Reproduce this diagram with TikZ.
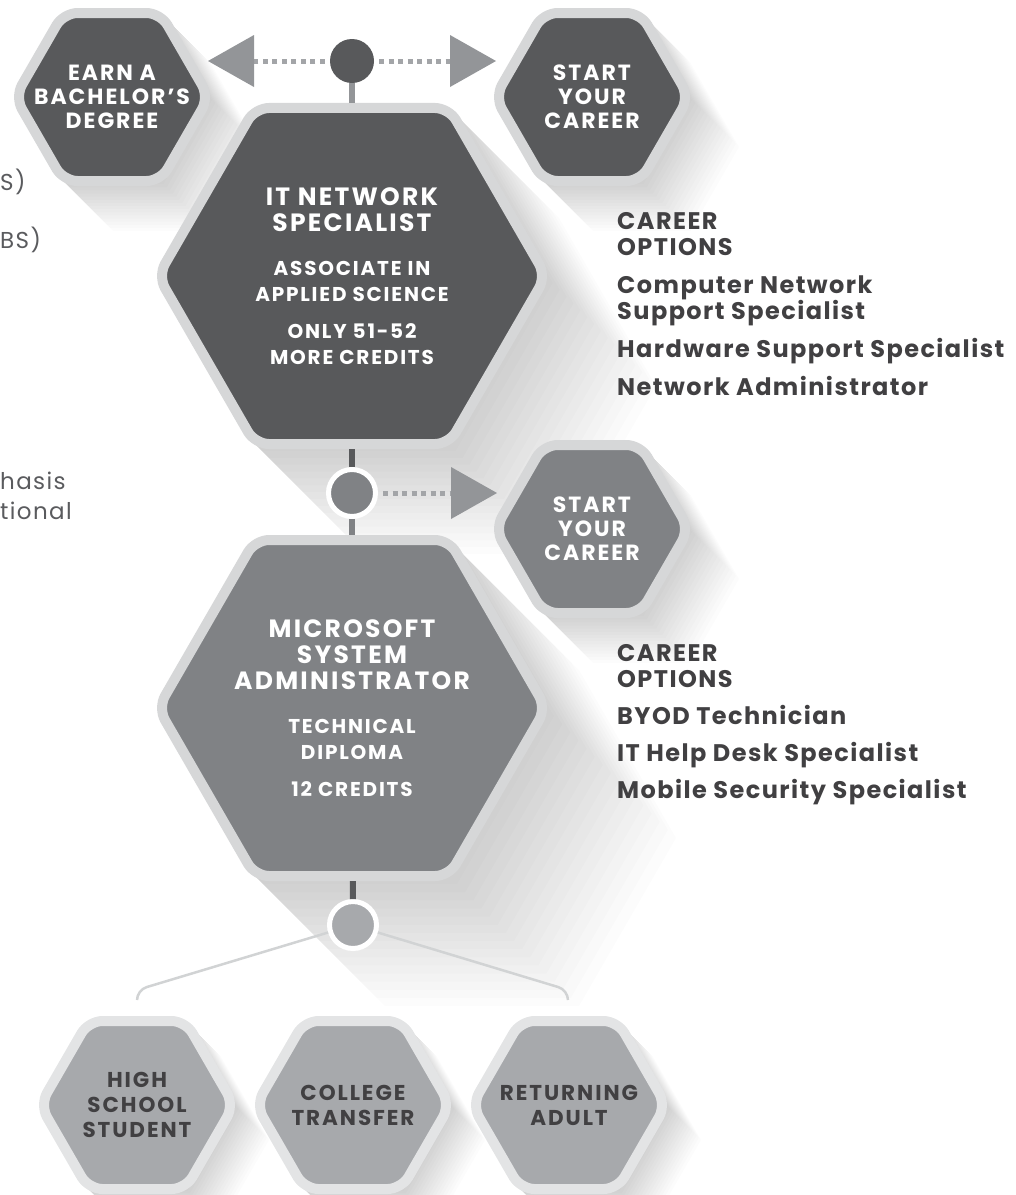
\documentclass[tikz,border=0pt]{standalone}
\usepackage{fontspec}
\setmainfont{Poppins}[LetterSpace=6]
\newfontfamily\hexfont{Poppins}[LetterSpace=9]
\usetikzlibrary{shapes.geometric,arrows.meta}

\definecolor{hexdark}{HTML}{58595B}
\definecolor{hexmid}{HTML}{808285}
\definecolor{hexlight}{HTML}{A7A9AC}
\definecolor{hexrim}{HTML}{D6D7D8}
\definecolor{rimlight}{HTML}{E3E4E5}
\definecolor{arrowgray}{HTML}{939598}
\definecolor{dotgray}{HTML}{A3A5A8}
\definecolor{txtgray}{HTML}{414042}
\definecolor{cutgray}{HTML}{5A5B5E}
\definecolor{branchgray}{HTML}{D1D3D4}

% shadow ribbon behind a hexagon: x, y, radius, length
\newcommand{\hexshadow}[4]{%
  \foreach \k in {1,...,16}{
  \fill[black, opacity=0.012]
    ({#1+0.5*#3},{#2-0.866*#3}) -- ({#1+0.5*#3+#4*\k/16},{#2-0.866*#3+#4*\k/16})
    -- ({#1+#3+#4*\k/16},{#2+#4*\k/16}) -- ({#1+0.5*#3+#4*\k/16},{#2+0.866*#3+#4*\k/16})
    -- ({#1-0.5*#3+#4*\k/16},{#2+0.866*#3+#4*\k/16}) -- ({#1-0.5*#3},{#2+0.866*#3}) -- cycle;}}
\newcommand{\hta}[1]{{\fontsize{25}{26}\selectfont #1}}
\newcommand{\htb}[1]{{\fontsize{20}{26}\selectfont #1}}

\begin{document}
\begin{tikzpicture}[x=1pt,y=-1pt]
  \tikzset{hexa/.style = {regular polygon, regular polygon sides=6, minimum size=#1, inner sep=-60pt,
      line width=10pt, draw=hexrim, rounded corners=14pt, align=center, text=white,
      font=\hexfont\bfseries\fontsize{22}{24}\selectfont}}
  \tikzset{entry/.style = {hexa=194, fill=hexlight, draw=rimlight, text=txtgray,
      font=\hexfont\bfseries\fontsize{21.5}{25}\selectfont}}
  \tikzset{dot/.style = {circle, minimum size=#1, inner sep=0pt}}
  \tikzset{stub/.style = {line width=6pt}}
  \tikzset{dotarrow/.style = {draw=dotgray, line width=5pt, dash pattern=on 5pt off 4.5pt, shorten <=5pt,
      -{Triangle[length=46pt, width=52pt, line width=0pt, color=arrowgray]}}}
  \tikzset{branch/.style = {draw=branchgray, line width=2.5pt, rounded corners=10pt}}
  \tikzset{options/.style = {align=left, anchor=north west, inner sep=0pt, text=txtgray,
      font=\bfseries\fontsize{24}{26}\selectfont}}
  \tikzset{cut/.style = {inner sep=0pt, text=cutgray, font=\fontsize{23}{26}\selectfont}}

  \useasboundingbox (0,0) rectangle (1016,1195);

  % shadows
  \hexshadow{112}{97}{97}{50}
  \hexshadow{592}{97}{97}{50}
  \hexshadow{352}{276}{194}{110}
  \hexshadow{592}{529}{97}{50}
  \hexshadow{352}{708}{194}{130}
  \hexshadow{137}{1105}{97}{35}
  \hexshadow{353}{1105}{97}{35}
  \hexshadow{569}{1105}{97}{35}

  % text at the left edge
  \node[cut, anchor=west] (cuta) at (0,182) {S)};
  \node[cut, anchor=west] (cutb) at (0,240) {BS)};
  \node[cut, anchor=west] (cutc) at (0,481) {hasis};
  \node[cut, anchor=west] (cutd) at (0,511) {tional};

  % hexagons
  \node[hexa=194, fill=hexdark] (bach) at (112,97) {EARN A\\BACHELOR’S\\DEGREE};
  \node[hexa=194, fill=hexdark] (start) at (592,97) {START\\YOUR\\CAREER};
  \node[hexa=388, fill=hexdark, font=\hexfont\bfseries\fontsize{20}{26}\selectfont] (itnet) at (352,276)
    {\hta{IT NETWORK}\\\hta{SPECIALIST}\\[18pt]\htb{ASSOCIATE IN}\\\htb{APPLIED SCIENCE}\\[11pt]\htb{ONLY 51-52}\\\htb{MORE CREDITS}};
  \node[hexa=194, fill=hexmid] (startb) at (592,529) {START\\YOUR\\CAREER};
  \node[hexa=388, fill=hexmid, font=\hexfont\bfseries\fontsize{20}{26}\selectfont] (msadmin) at (352,708)
    {\hta{MICROSOFT}\\\hta{SYSTEM}\\\hta{ADMINISTRATOR}\\[18pt]\htb{TECHNICAL}\\\htb{DIPLOMA}\\[11pt]\htb{12 CREDITS}};
  \node[entry] (hschool) at (137,1105) {HIGH\\SCHOOL\\STUDENT};
  \node[entry] (ctrans) at (353,1105) {COLLEGE\\TRANSFER};
  \node[entry] (radult) at (569,1105) {RETURNING\\ADULT};

  % dots
  \node[dot=44, fill=hexdark] (topdot) at (352,61) {};
  \node[dot=47, fill=hexmid, draw=white, line width=5pt] (middot) at (352,493) {};
  \node[dot=47, fill=hexlight, draw=white, line width=5pt] (botdot) at (353,925) {};

  \coordinate (ltip) at (208,61);
  \coordinate (rtip) at (496,61);
  \coordinate (mtip) at (497,493);
  \coordinate (hsbend) at (137,990);
  \coordinate (hsend) at (137,1000);
  \coordinate (rabend) at (568,990);
  \coordinate (raend) at (568,1000);

  % connectors
  \draw[stub, draw=arrowgray] (topdot) -- (itnet);
  \draw[stub, draw=hexdark] (itnet) -- (middot);
  \draw[stub, draw=hexmid] (middot) -- (msadmin);
  \draw[stub, draw=hexdark] (msadmin) -- (botdot);
  \draw[dotarrow] (topdot) -- (ltip);
  \draw[dotarrow] (topdot) -- (rtip);
  \draw[dotarrow] (middot) -- (mtip);
  \draw[branch] (botdot) -- (hsbend) -- (hsend);
  \draw[branch] (botdot) -- (rabend) -- (raend);

  % career options
  \node[options] (optsa) at (617,212) {CAREER\\OPTIONS\\[12pt]Computer Network\\Support Specialist\\[12pt]Hardware Support Specialist\\[12pt]Network Administrator};
  \node[options] (optsb) at (617,644) {CAREER\\OPTIONS\\[11pt]BYOD Technician\\[11pt]IT Help Desk Specialist\\[11pt]Mobile Security Specialist};
\end{tikzpicture}
\end{document}
